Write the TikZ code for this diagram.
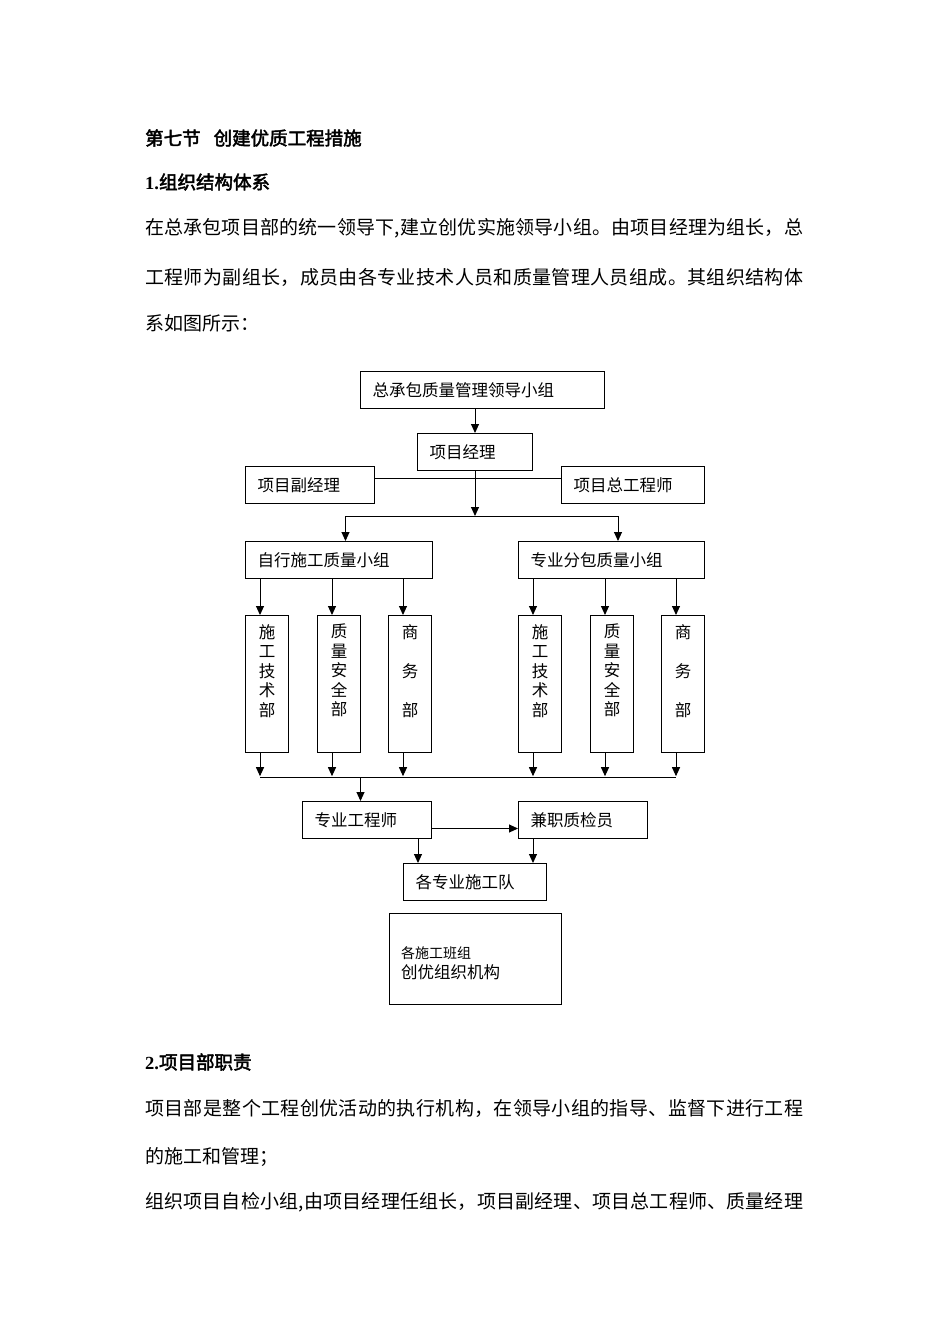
\documentclass[tikz,border=0pt]{standalone}
\usepackage{fontspec}
\setmainfont{Liberation Serif}
\newfontfamily\cjk{Noto Sans CJK SC}
\newfontfamily\cjkb[FakeBold=2.5]{Noto Sans CJK SC}
\usetikzlibrary{arrows.meta}
\def\spreadloop#1{\ifx\relax#1\else#1\hskip0pt plus1fil\expandafter\spreadloop\fi}
\newcommand\fullline[1]{\hbox to 658pt{\spreadloop#1\relax\unskip}}
\begin{document}
\begin{tikzpicture}[x=1pt,y=-1pt,
  every node/.style={inner sep=0pt},
  ln/.style={line width=1pt},
  arr/.style={line width=1pt,-{Triangle[length=9pt,width=8pt]}},
  dfont/.style={font=\cjk\fontsize{16.5}{19.5}\selectfont},
  box/.style={draw,line width=1pt,inner xsep=12pt,inner ysep=0pt,minimum height=37pt,anchor=north west,align=left,dfont},
  vbox/.style={draw,line width=1pt,minimum width=43pt,minimum height=137pt,anchor=north west},
  vtxt/.style={anchor=north,align=center,dfont},
  body/.style={anchor=west,font=\cjk\fontsize{19}{20}\selectfont},
  head/.style={anchor=west,font=\cjkb\fontsize{18.5}{20}\selectfont}
]
\useasboundingbox (0,0) rectangle (950,1344);
\fill[white] (0,0) rectangle (950,1344);

% text above
\node[head] (h1) at (145,138) {第七节\hspace{13pt}创建优质工程措施};
\node[head] (h2) at (145,182) {{\bfseries\rmfamily 1.}组织结构体系};
\node[body] (p1) at (145,228) {\fullline{在总承包项目部的统一领导下,建立创优实施领导小组。由项目经理为组长，总}};
\node[body] (p2) at (145,277) {\fullline{工程师为副组长，成员由各专业技术人员和质量管理人员组成。其组织结构体}};
\node[body] (p3) at (145,323) {系如图所示：};

% diagram boxes
\node[box,text width=220pt] (top) at (360,371) {总承包质量管理领导小组};
\node[box,text width=91pt] (pm) at (417,433) {项目经理};
\node[box,text width=105pt] (dpm) at (245,466) {项目副经理};
\node[box,text width=119pt] (ce) at (561,466) {项目总工程师};
\node[box,text width=163pt] (g1) at (245,541) {自行施工质量小组};
\node[box,text width=162pt] (g2) at (518,541) {专业分包质量小组};

\node[vbox] (v1) at (245,615) {};
\node[vbox] (v2) at (317,615) {};
\node[vbox] (v3) at (388,615) {};
\node[vbox] (v4) at (518,615) {};
\node[vbox] (v5) at (590,615) {};
\node[vbox] (v6) at (661,615) {};
\node[vtxt] (t1) at ([yshift=-9pt]v1.north) {施\\工\\技\\术\\部};
\node[vtxt] (t2) at ([yshift=-9pt]v2.north) {质\\量\\安\\全\\部};
\node[vtxt] (t3) at ([yshift=-9pt]v3.north) {商\\[19.5pt]务\\[19.5pt]部};
\node[vtxt] (t4) at ([yshift=-9pt]v4.north) {施\\工\\技\\术\\部};
\node[vtxt] (t5) at ([yshift=-9pt]v5.north) {质\\量\\安\\全\\部};
\node[vtxt] (t6) at ([yshift=-9pt]v6.north) {商\\[19.5pt]务\\[19.5pt]部};

\node[box,text width=105pt] (se) at (302,801) {专业工程师};
\node[box,text width=105pt] (qi) at (518,801) {兼职质检员};
\node[box,text width=119pt] (team) at (403,863) {各专业施工队};
\node[draw,line width=1pt,minimum width=172pt,minimum height=91pt,anchor=north west] (big) at (389,913) {};
\node[anchor=west,align=left,dfont] (bigt) at ([xshift=12pt,yshift=-4pt]big.west) {{\fontsize{14}{18}\selectfont 各施工班组}\\创优组织机构};

% connectors
\draw[arr] (pm.north |- top.south) -- (pm.north);
\draw[ln] ([yshift=6.5pt]dpm.east) -- ([yshift=6.5pt]dpm.east -| ce.west);
\coordinate (j1) at (475,516);
\draw[arr] (pm.south) -- (j1);
\draw[ln] ([xshift=6.5pt]g1.north |- j1) -- ([xshift=6.5pt]g2.north |- j1);
\draw[arr] ([xshift=6.5pt]g1.north |- j1) -- ([xshift=6.5pt]g1.north);
\draw[arr] ([xshift=6.5pt]g2.north |- j1) -- ([xshift=6.5pt]g2.north);

\foreach \v/\g in {v1/g1,v2/g1,v3/g1,v4/g2,v5/g2,v6/g2}{
  \draw[arr] ([xshift=-7pt]\v.north |- \g.south) -- ([xshift=-7pt]\v.north);
}
\coordinate (bus) at (0,777);
\foreach \v in {v1,v2,v3,v4,v5,v6}{
  \draw[arr] ([xshift=-7pt]\v.south) -- ([xshift=-7pt,yshift=0.8pt]\v.south |- bus);
}
\draw[ln] ([xshift=-7pt]v1.south |- bus) -- ([xshift=-7pt]v6.south |- bus);
\draw[arr] ([xshift=-6.5pt]se.north |- bus) -- ([xshift=-6.5pt]se.north);
\draw[arr] ([yshift=-8.5pt]se.east) -- ([yshift=-8.5pt]se.east -| qi.west);
\draw[arr] ([xshift=-14pt]se.south east) -- ([xshift=-14pt]se.south east |- team.north);
\draw[arr] ([xshift=15pt]qi.south west) -- ([xshift=15pt]qi.south west |- team.north);

% text below
\node[head] (h3) at (145,1062) {{\bfseries\rmfamily 2.}项目部职责};
\node[body] (q1) at (145,1108) {\fullline{项目部是整个工程创优活动的执行机构，在领导小组的指导、监督下进行工程}};
\node[body] (q2) at (145,1157) {的施工和管理；};
\node[body] (q3) at (145,1202) {\fullline{组织项目自检小组,由项目经理任组长，项目副经理、项目总工程师、质量经理}};
\end{tikzpicture}
\end{document}
